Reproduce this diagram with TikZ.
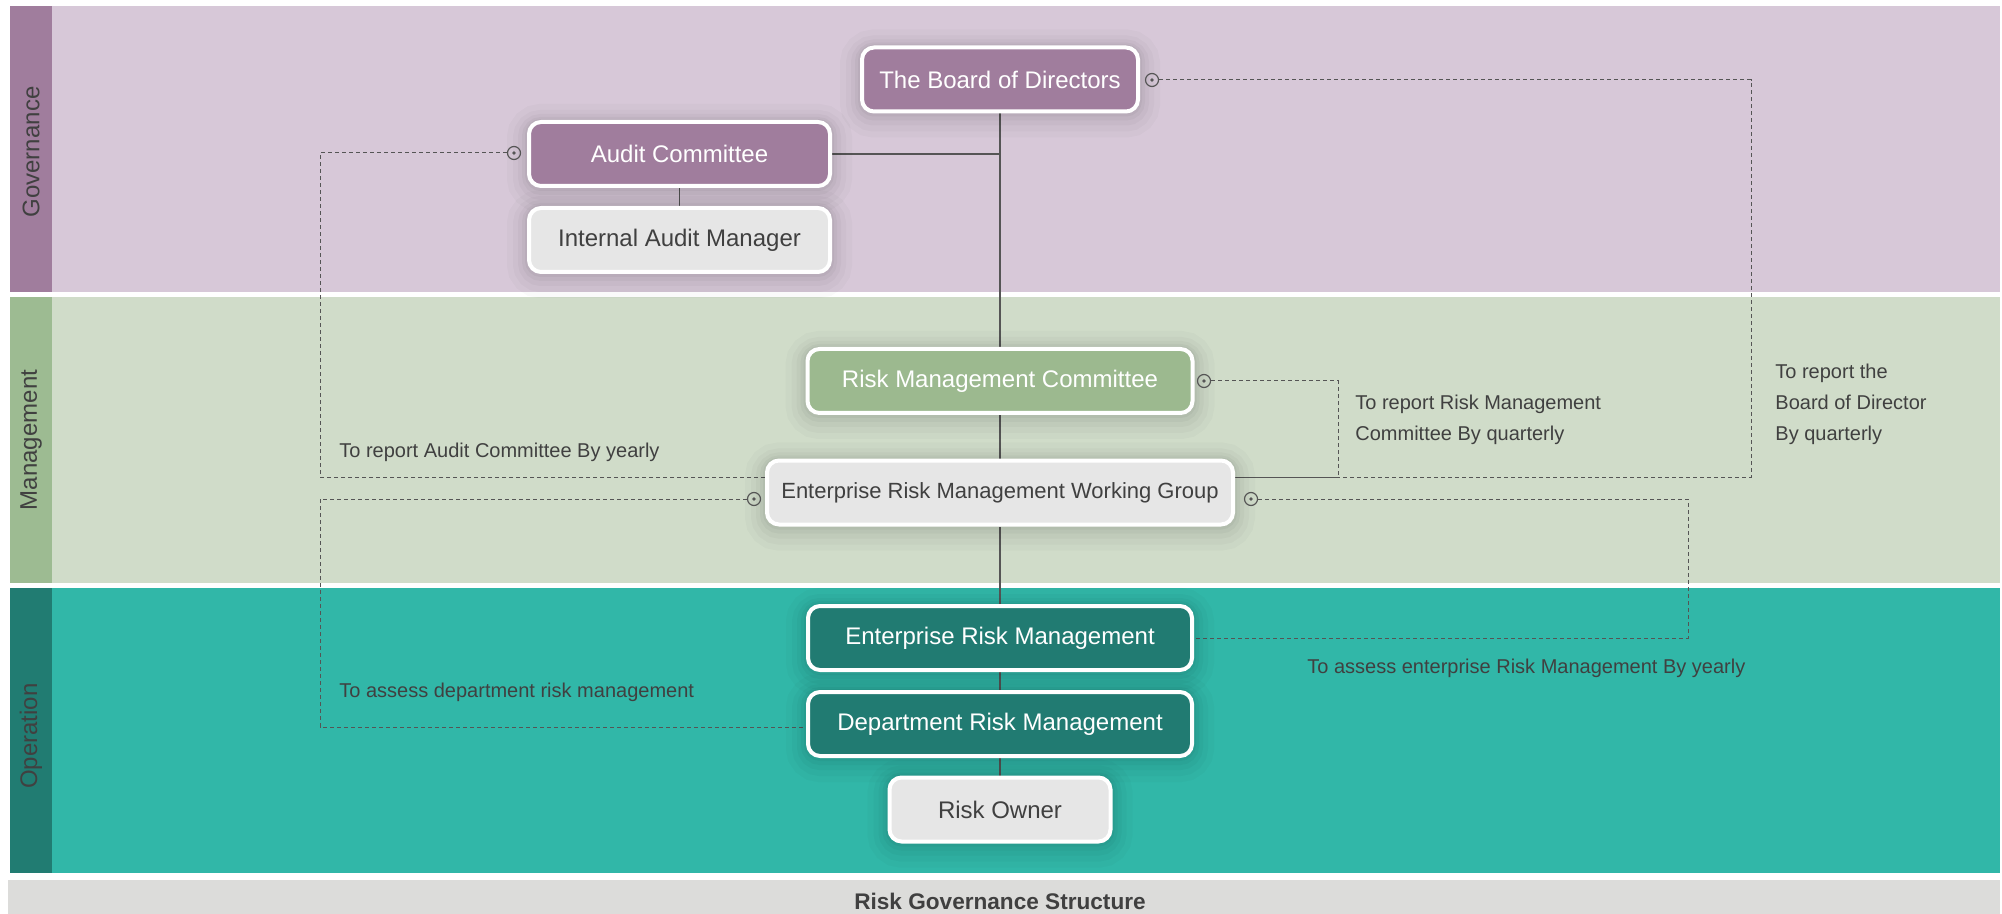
\documentclass[tikz,border=0pt]{standalone}
\usepackage{fontspec}
\setmainfont{Liberation Sans}

\definecolor{govBg}{HTML}{D7C8D8}
\definecolor{govBar}{HTML}{A07D9D}
\definecolor{govNode}{HTML}{A07D9D}
\definecolor{mgtBg}{HTML}{D0DCC9}
\definecolor{mgtBar}{HTML}{9DBB92}
\definecolor{mgtNode}{HTML}{9CB98F}
\definecolor{opsBg}{HTML}{31B7A8}
\definecolor{opsBar}{HTML}{217C72}
\definecolor{opsNode}{HTML}{217B72}
\definecolor{greyNode}{HTML}{E6E6E6}
\definecolor{capBg}{HTML}{DCDCDA}
\definecolor{inkGrey}{HTML}{404040}
\definecolor{lineGrey}{HTML}{555555}

\pgfdeclarelayer{lane}
\pgfdeclarelayer{wire}
\pgfsetlayers{lane,wire,main}

\begin{document}
\begin{tikzpicture}[x=0.5pt,y=0.5pt,yscale=-1,xscale=1,
  box/.style={rounded corners=6pt,draw=white,line width=2pt,inner sep=0pt,minimum height=32pt,
    font=\fontsize{12pt}{14pt}\selectfont,
    preaction={draw=black,draw opacity=0.018,line width=22pt,transform canvas={yshift=-2pt}},
    preaction={draw=black,draw opacity=0.022,line width=16pt,transform canvas={yshift=-2pt}},
    preaction={draw=black,draw opacity=0.026,line width=11pt,transform canvas={yshift=-1.5pt}},
    preaction={draw=black,draw opacity=0.03,line width=7pt,transform canvas={yshift=-1pt}},
    preaction={draw=black,draw opacity=0.035,line width=4pt,transform canvas={yshift=-0.5pt}}},
  govbox/.style={box,fill=govNode,text=white},
  mgtbox/.style={box,fill=mgtNode,text=white},
  opsbox/.style={box,fill=opsNode,text=white},
  greybox/.style={box,fill=greyNode,text=inkGrey},
  tie/.style={draw=lineGrey,line width=0.6pt},
  report/.style={draw=lineGrey,line width=0.5pt,dash pattern=on 2pt off 1.5pt},
  knob/.style={circle,draw=lineGrey,line width=0.6pt,minimum size=6.5pt,inner sep=0pt,
    path picture={\fill[lineGrey] (path picture bounding box.center) circle (0.9pt);}},
  note/.style={anchor=west,inner sep=0pt,text=inkGrey,font=\fontsize{10pt}{15.5pt}\selectfont,align=left},
  lanetag/.style={rotate=90,inner sep=0pt,text=inkGrey,font=\fontsize{12pt}{14pt}\selectfont}]
\useasboundingbox (0,0) rectangle (2002,914);

\begin{pgfonlayer}{lane}
%Shape: Rectangle
\fill[white] (0,0) rectangle (2002,914);
\fill[govBg] (10,6) rectangle (2000,292);
\fill[govBar] (10,6) rectangle (52,292);
\fill[mgtBg] (10,297) rectangle (2000,583);
\fill[mgtBar] (10,297) rectangle (52,583);
\fill[opsBg] (10,588) rectangle (2000,873);
\fill[opsBar] (10,588) rectangle (52,873);
\fill[capBg] (8,880) rectangle (2000,914);
\end{pgfonlayer}

% Text Node
\node[lanetag] (tagGov) at (31,152) {Governance};
\node[lanetag] (tagMgt) at (31,440) {Management};
\node[lanetag] (tagOps) at (31,736) {Operation};
\node[text=inkGrey,font=\fontsize{11.3pt}{13pt}\selectfont\bfseries] (title) at (1000,901) {Risk Governance Structure};

%Rounded Rect
\node[govbox,minimum width=138pt] (board) at (1000,79.5) {The Board of Directors};
\node[govbox,minimum width=150.5pt] (audit) at (679.5,154) {Audit Committee};
\node[greybox,minimum width=150.5pt] (iam) at (679.5,240) {Internal Audit Manager};
\node[mgtbox,minimum width=192.5pt] (rmc) at (1000,381) {Risk Management Committee};
\node[greybox,minimum width=233pt,font=\fontsize{11pt}{13pt}\selectfont] (ermwg) at (1000,492.5) {Enterprise Risk Management Working Group};
\node[opsbox,minimum width=192pt] (erm) at (1000,638) {Enterprise Risk Management};
\node[opsbox,minimum width=192pt] (drm) at (1000,724) {Department Risk Management};
\node[greybox,minimum width=110.5pt] (owner) at (1000,809.5) {Risk Owner};

%Circle
\node[knob] (dotBoard) at (1152,80) {};
\node[knob] (dotAudit) at (514,153) {};
\node[knob] (dotRmc) at (1204,381) {};
\node[knob] (dotWgL) at (754,499) {};
\node[knob] (dotWgR) at (1251,499) {};

\coordinate (acBend) at (320,477);
\coordinate (drmBend) at (320,727);
\coordinate (rmcBend) at (1338,477);
\coordinate (bodBend) at (1751,477);
\coordinate (ermBend) at (1688,638);

\begin{pgfonlayer}{wire}
%Straight Lines
\draw[tie] (board.south) -- (rmc.north);
\draw[tie] (audit.east) -- (audit.east -| board.south);
\draw[tie] (audit.south) -- (iam.north);
\draw[tie] (rmc.south) -- (ermwg.north);
\draw[tie] (ermwg.south) -- (erm.north);
\draw[tie] (erm.south) -- (drm.north);
\draw[tie] (drm.south) -- (owner.north);

%Dashed Lines
\draw[report] (ermwg.west |- acBend) -- (acBend) -- (acBend |- dotAudit) -- (dotAudit.west);
\draw[report] (dotRmc.east) -- (dotRmc -| rmcBend) -- (rmcBend) -- (ermwg.east |- rmcBend);
\draw[report] (dotBoard.east) -- (dotBoard -| bodBend) -- (bodBend) -- (ermwg.east |- bodBend);
\draw[report] (dotWgL.west) -- (dotWgL -| drmBend) -- (drmBend) -- (drm.west |- drmBend);
\draw[report] (dotWgR.east) -- (dotWgR -| ermBend) -- (ermBend) -- (erm.east);
\end{pgfonlayer}

% Text Node
\node[note] (noteAc) at (339,452) {To report Audit Committee By yearly};
\node[note] (noteDrm) at (339,692) {To assess department risk management};
\node[note] (noteRmc) at (1355,419.5) {To report Risk Management\\Committee By quarterly};
\node[note] (noteBoard) at (1775,404) {To report the\\Board of Director\\By quarterly};
\node[note] (noteErm) at (1307,668) {To assess enterprise Risk Management By yearly};

\end{tikzpicture}
\end{document}
